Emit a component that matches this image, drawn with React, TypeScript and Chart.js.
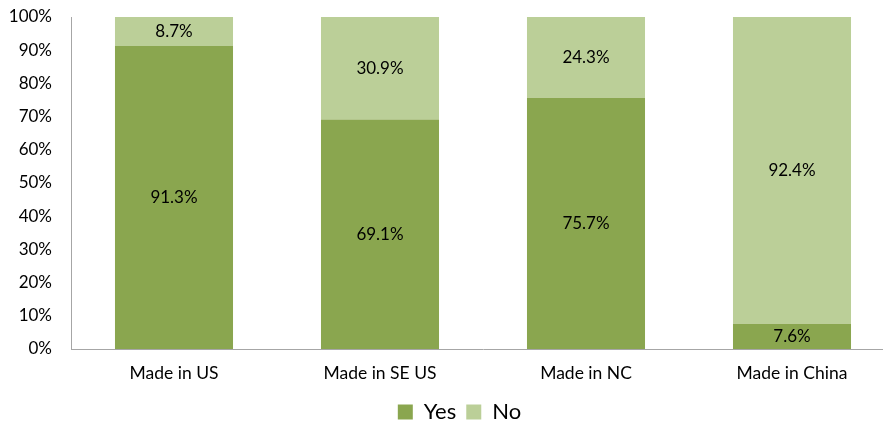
import React, { useEffect, useRef } from "react";
import { Chart, registerables } from "chart.js";

Chart.register(...registerables);

const categories = ["Made in US", "Made in SE US", "Made in NC", "Made in China"];
const yesValues = [91.3, 69.1, 75.7, 7.6];
const noValues = [8.7, 30.9, 24.3, 92.4];
const seriesNames = ["Yes", "No"];
const yesColor = "#8AA64F";
const noColor = "#BBCF98";
const FONT = "Lato, 'Open Sans', sans-serif";

const segmentLabels = {
  id: "segmentLabels",
  afterDatasetsDraw(chart: any) {
    const ctx = chart.ctx;
    ctx.save();
    ctx.font = `17px ${FONT}`;
    ctx.fillStyle = "#000";
    ctx.textAlign = "center";
    ctx.textBaseline = "middle";
    chart.data.datasets.forEach((ds: any, i: number) => {
      const meta = chart.getDatasetMeta(i);
      meta.data.forEach((bar: any, j: number) => {
        const v = ds.data[j];
        const yc = (bar.y + bar.base) / 2;
        ctx.fillText(v.toFixed(1) + "%", bar.x, yc);
      });
    });
    ctx.restore();
  },
};

const legendShift = {
  id: "legendShift",
  afterLayout(chart: any) {
    if (chart.legend) {
      chart.legend.left += 12;
      chart.legend.right += 12;
    }
  },
};

export default function App() {
  const ref = useRef<HTMLCanvasElement>(null);
  useEffect(() => {
    if (!ref.current) return;
    const chart = new Chart(ref.current, {
      type: "bar",
      data: {
        labels: categories,
        datasets: [
          { label: seriesNames[0], data: yesValues, backgroundColor: yesColor, barPercentage: 0.573, categoryPercentage: 1 },
          { label: seriesNames[1], data: noValues, backgroundColor: noColor, barPercentage: 0.573, categoryPercentage: 1 },
        ],
      },
      options: {
        responsive: false,
        animation: false,
        layout: { padding: { top: 17, right: 5, left: 0, bottom: -8 } },
        plugins: {
          tooltip: { enabled: false },
          legend: {
            position: "bottom",
            labels: {
              boxWidth: 15,
              boxHeight: 15,
              color: "#000",
              padding: 10,
              font: { family: FONT, size: 22 },
            },
          },
        },
        scales: {
          x: {
            stacked: true,
            grid: { display: false, drawTicks: false },
            border: { color: "#A6A6A6", width: 1 },
            ticks: { color: "#000", font: { family: FONT, size: 17.5 }, padding: 14 },
            afterFit: (s: any) => { s.height = 42; s.paddingLeft = 0; s.paddingRight = 0; },
          },
          y: {
            stacked: true,
            min: 0,
            max: 100,
            grid: { display: false, drawTicks: false },
            border: { color: "#A6A6A6", width: 1 },
            ticks: {
              stepSize: 10,
              color: "#000",
              font: { family: FONT, size: 17 },
              padding: 19,
              callback: (v: any) => v + "%",
            },
            afterFit: (s: any) => { s.width = 71; s.paddingTop = 0; s.paddingBottom = 0; },
          },
        },
      },
      plugins: [segmentLabels, legendShift],
    });
    return () => chart.destroy();
  }, []);
  return (
    <div style={{ position: "fixed", left: 0, top: 0, width: 883, height: 425, overflow: "hidden", background: "#fff" }}>
      <canvas ref={ref} width={900} height={425} style={{ display: "block" }} />
    </div>
  );
}
